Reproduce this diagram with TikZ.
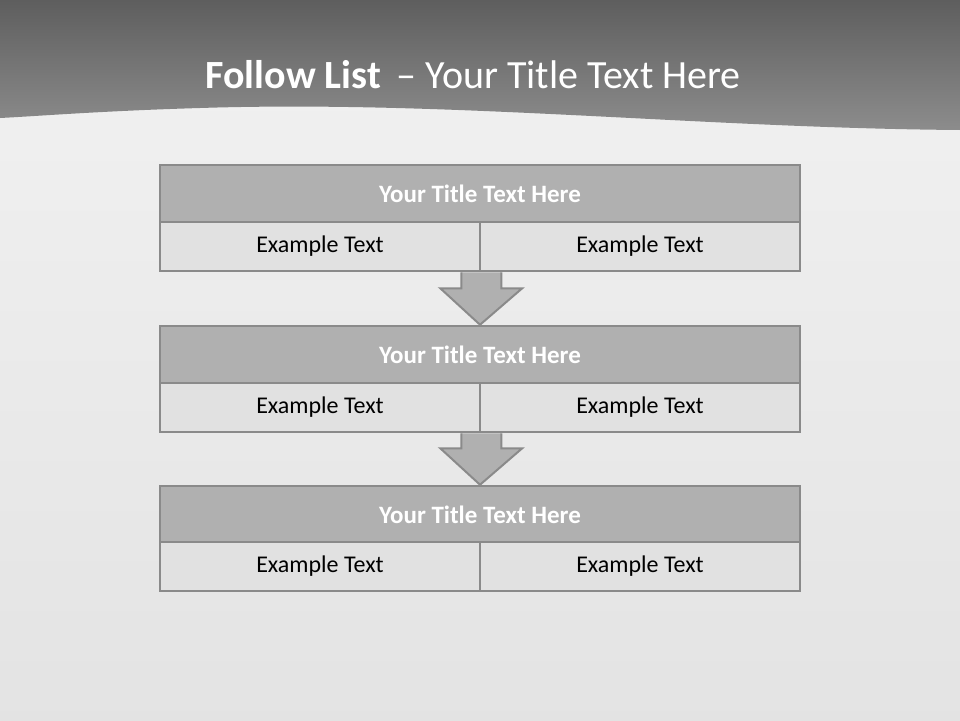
\documentclass[tikz,border=0pt]{standalone}
\usepackage{fontspec}
\setmainfont{Carlito}
\usetikzlibrary{calc}
\definecolor{bgc}{HTML}{ECECEC}
\definecolor{hdtop}{HTML}{5E5E5E}
\definecolor{hdbot}{HTML}{8C8C8C}
\definecolor{edge}{HTML}{8A8A8A}
\definecolor{titlefill}{HTML}{B0B0B0}
\definecolor{cellfill}{HTML}{E1E1E1}
\begin{document}
\begin{tikzpicture}[x=1pt,y=-1pt,
  titlebar/.style={draw=edge,line width=2.5pt,fill=titlefill,minimum width=640pt,minimum height=57pt,inner sep=0pt,text=white,font=\fontsize{25}{30}\selectfont\bfseries},
  cellbox/.style={draw=edge,line width=2.5pt,fill=cellfill,minimum width=320pt,minimum height=49pt,inner sep=0pt,text=black,font=\fontsize{24}{29}\selectfont},
  downarrow/.style={draw=edge,line width=2pt,fill=titlefill,line join=miter}]
\useasboundingbox (0,0) rectangle (960,720);
% background
\shade[top color=bgc!70!white,bottom color=bgc!92!gray] (0,0) rectangle (960,720);
% header band with wave
\shade[top color=hdtop,bottom color=hdbot]
  (0,0) -- (960,0) -- (960,130) .. controls (700,128) and (450,100) .. (200,108) .. controls (100,111) and (40,116) .. (0,118) -- cycle;
\node[anchor=base west,text=white,font=\fontsize{40}{48}\selectfont] (title) at (202,88) {\textbf{Follow List}\, – Your Title Text Here};
% block 1
\node[titlebar] (t1) at (480,193.5) {Your Title Text Here};
\node[cellbox] (a1) at (320,246.5) {Example Text};
\node[cellbox] (b1) at (640,246.5) {Example Text};
% block 2
\node[titlebar] (t2) at (480,354.5) {Your Title Text Here};
\node[cellbox] (a2) at (320,407.5) {Example Text};
\node[cellbox] (b2) at (640,407.5) {Example Text};
% block 3
\node[titlebar] (t3) at (480,514.5) {Your Title Text Here};
\node[cellbox] (a3) at (320,566.5) {Example Text};
\node[cellbox] (b3) at (640,566.5) {Example Text};
% arrows
\draw[downarrow] ($(a1.south east)+(-20,0)$) -- ++(0,16) -- ++(-21,0) -- (t2.north) -- ($(a1.south east)+(41,16)$) -- ++(-21,0) -- ($(a1.south east)+(20,0)$);
\draw[downarrow] ($(a2.south east)+(-20,0)$) -- ++(0,15) -- ++(-21,0) -- (t3.north) -- ($(a2.south east)+(41,15)$) -- ++(-21,0) -- ($(a2.south east)+(20,0)$);
\end{tikzpicture}
\end{document}
